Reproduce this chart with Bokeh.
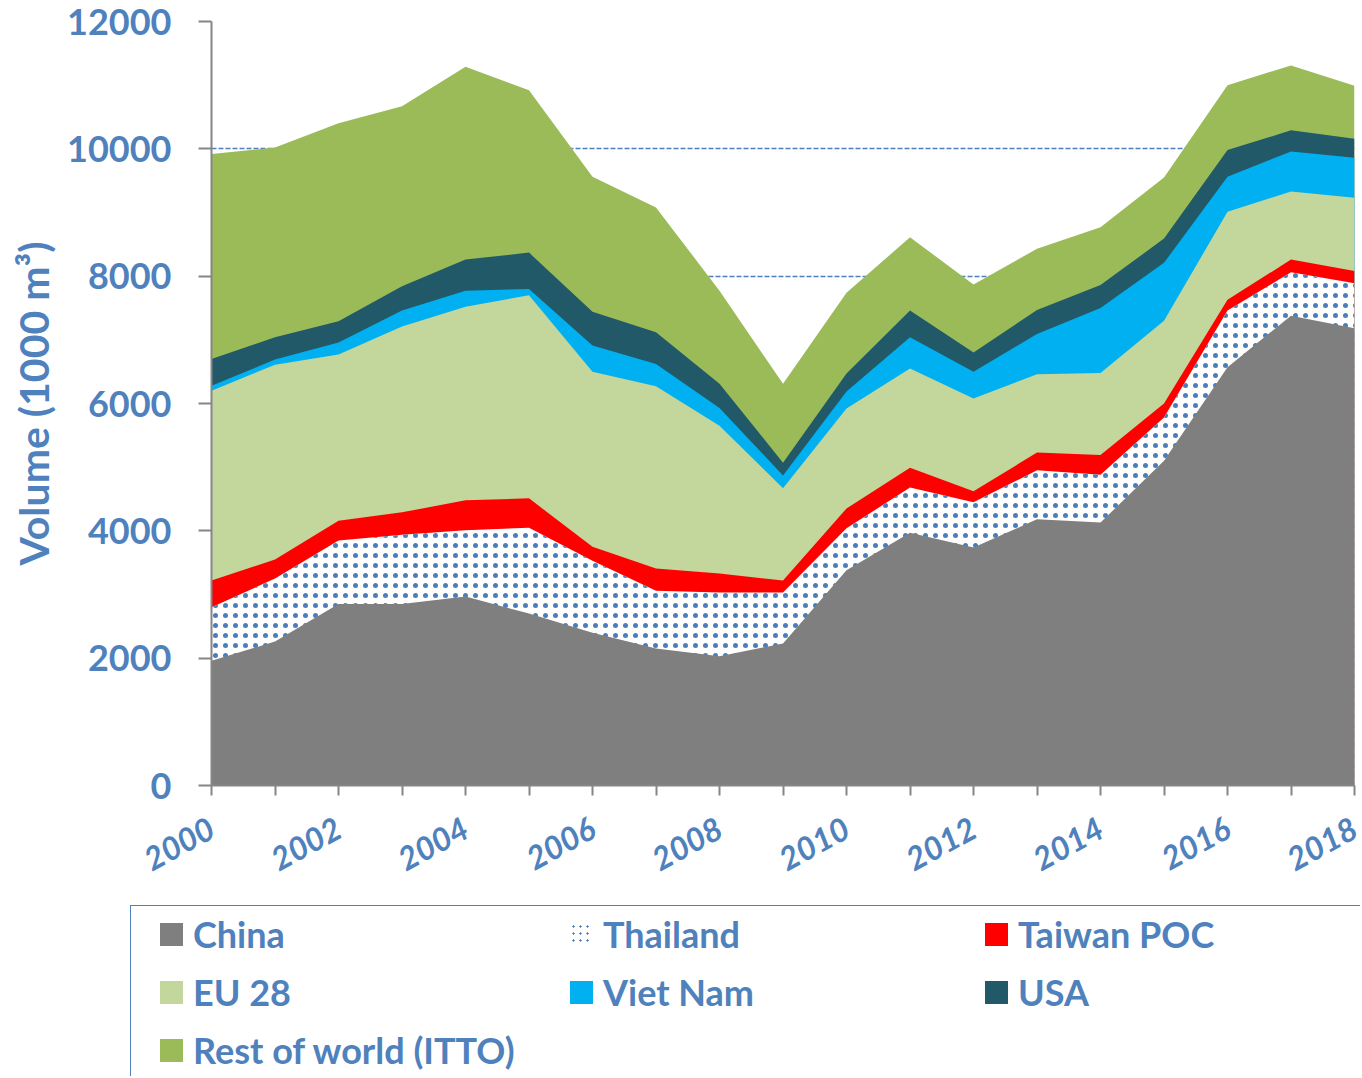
import numpy as np
from bokeh.plotting import figure
from bokeh.models import ColumnDataSource, Range1d, FixedTicker, Div
from bokeh.layouts import column
from bokeh.embed import file_html
from bokeh.resources import INLINE

# ---------------- data (1000 m3) ----------------
years = list(range(2000, 2019))
china    = [1960, 2260, 2850, 2850, 2970, 2700, 2400, 2150, 2030, 2230, 3380, 3970, 3740, 4180, 4130, 5100, 6570, 7380, 7180]
thailand = [840, 990, 1000, 1090, 1040, 1350, 1130, 910, 1000, 800, 660, 710, 710, 770, 750, 680, 890, 680, 710]
taiwan   = [420, 300, 310, 350, 470, 460, 220, 350, 300, 190, 310, 310, 170, 280, 310, 220, 170, 200, 190]
eu28     = [2980, 3060, 2610, 2920, 3040, 3190, 2750, 2860, 2320, 1450, 1570, 1560, 1460, 1230, 1290, 1300, 1380, 1070, 1150]
vietnam  = [80, 80, 190, 250, 250, 100, 410, 350, 280, 200, 270, 490, 420, 630, 1020, 910, 550, 630, 630]
usa      = [420, 350, 330, 380, 490, 570, 530, 500, 380, 200, 280, 420, 300, 380, 360, 380, 420, 330, 300]
rest     = [3220, 2980, 3110, 2830, 3030, 2550, 2120, 1960, 1460, 1240, 1270, 1150, 1070, 960, 910, 960, 1020, 1020, 830]

series_names = ["China", "Thailand", "Taiwan POC", "EU 28", "Viet Nam", "USA", "Rest of world (ITTO)"]
y_ticks = [0, 2000, 4000, 6000, 8000, 10000, 12000]

TXT = "#4F81BD"
DOT = "#4A7EBB"
FONT = "Lato"
colors = {
    "China": "#7F7F7F", "Thailand": "white", "Taiwan POC": "#FF0000", "EU 28": "#C3D69B",
    "Viet Nam": "#00B0F0", "USA": "#215968", "Rest of world (ITTO)": "#9BBB59",
}
hatch = {"Thailand": dict(hatch_pattern="dot", hatch_color=DOT, hatch_scale=10, hatch_weight=1.0)}

values = [china, thailand, taiwan, eu28, vietnam, usa, rest]
cum = np.cumsum(np.array(values, dtype=float), axis=0)
data = {"year": years, "zero": [0] * len(years)}
for i, name in enumerate(series_names):
    data["c%d" % i] = cum[i].tolist()
src = ColumnDataSource(data)

# ---------------- chart ----------------
W = 1360
p = figure(width=W, height=900, x_range=Range1d(2000, 2018), y_range=Range1d(0, 12000),
           toolbar_location=None, output_backend="svg",
           min_border_left=211, min_border_right=6, min_border_top=21, min_border_bottom=115,
           outline_line_color=None, background_fill_color="white", border_fill_color="white")

# draw top-most stack first, each from zero, so no seams appear
for i in reversed(range(len(series_names))):
    name = series_names[i]
    p.varea(x="year", y1="zero", y2="c%d" % i, source=src, fill_color=colors[name], **hatch.get(name, {}))

p.xgrid.visible = False
p.ygrid.ticker = FixedTicker(ticks=y_ticks)
p.ygrid.grid_line_color = TXT
p.ygrid.grid_line_dash = "5 2"
p.ygrid.grid_line_width = 1.5

p.yaxis.ticker = FixedTicker(ticks=y_ticks)
p.xaxis.ticker = FixedTicker(ticks=years)
p.xaxis.major_label_overrides = {y: ("" if y % 2 else str(y)) for y in years}
p.xaxis.major_label_orientation = 0.5

for ax in (p.xaxis, p.yaxis):
    ax.axis_line_color = "#868686"
    ax.axis_line_width = 2
    ax.major_tick_line_color = "#868686"
    ax.major_tick_line_width = 2
    ax.major_tick_in = 0
    ax.minor_tick_line_color = None
    ax.major_label_text_color = TXT
    ax.major_label_text_font = FONT
    ax.major_label_text_font_style = "bold"

p.yaxis.major_tick_out = 13
p.yaxis.major_label_standoff = 27
p.yaxis.major_label_text_font_size = "36px"
p.yaxis.axis_label = "Volume (1000 m³)"
p.yaxis.axis_label_text_font = FONT
p.yaxis.axis_label_text_font_style = "bold"
p.yaxis.axis_label_text_font_size = "41px"
p.yaxis.axis_label_text_color = TXT
p.yaxis.axis_label_standoff = 6

p.xaxis.major_tick_out = 10
p.xaxis.major_label_standoff = 30
p.xaxis.major_label_text_font_size = "32px"
p.xaxis.major_label_text_font_style = "bold italic"

# ---------------- legend (HTML panel below the chart) ----------------
col_x = [160, 570, 985]      # swatch left edges (px)
row_y = [34, 92, 150]        # row centres inside the panel (px)
SW = 23

def swatch_css(name):
    if name == "Thailand":
        return ("background-color:white;"
                "background-image:radial-gradient(circle, %s 0.9px, transparent 1.4px);"
                "background-size:7px 7px;" % DOT)
    return "background-color:%s;" % colors[name]

parts = ['<div style="position:relative;width:%dpx;height:176px;overflow:hidden;background:white;">' % W,
         '<div style="position:absolute;left:130px;top:5px;width:1400px;height:300px;'
         'border-top:1.5px solid %s;border-left:1.5px solid %s;"></div>' % (TXT, TXT)]
for k, name in enumerate(series_names):
    x = col_x[k % 3]
    y = row_y[k // 3]
    parts.append('<div style="position:absolute;left:%dpx;top:%dpx;width:%dpx;height:%dpx;%s"></div>'
                 % (x, y - SW // 2, SW, SW, swatch_css(name)))
    parts.append('<div style="position:absolute;left:%dpx;top:%dpx;height:44px;line-height:44px;'
                 'font-family:%s;font-weight:700;font-size:36px;color:%s;white-space:nowrap;">%s</div>'
                 % (x + SW + 10, y - 22, FONT, TXT, name))
parts.append('</div>')
legend_div = Div(text="".join(parts), width=W, height=176, margin=0)

layout = column(p, legend_div, spacing=0)
open("out.html", "w").write(file_html(layout, INLINE))
